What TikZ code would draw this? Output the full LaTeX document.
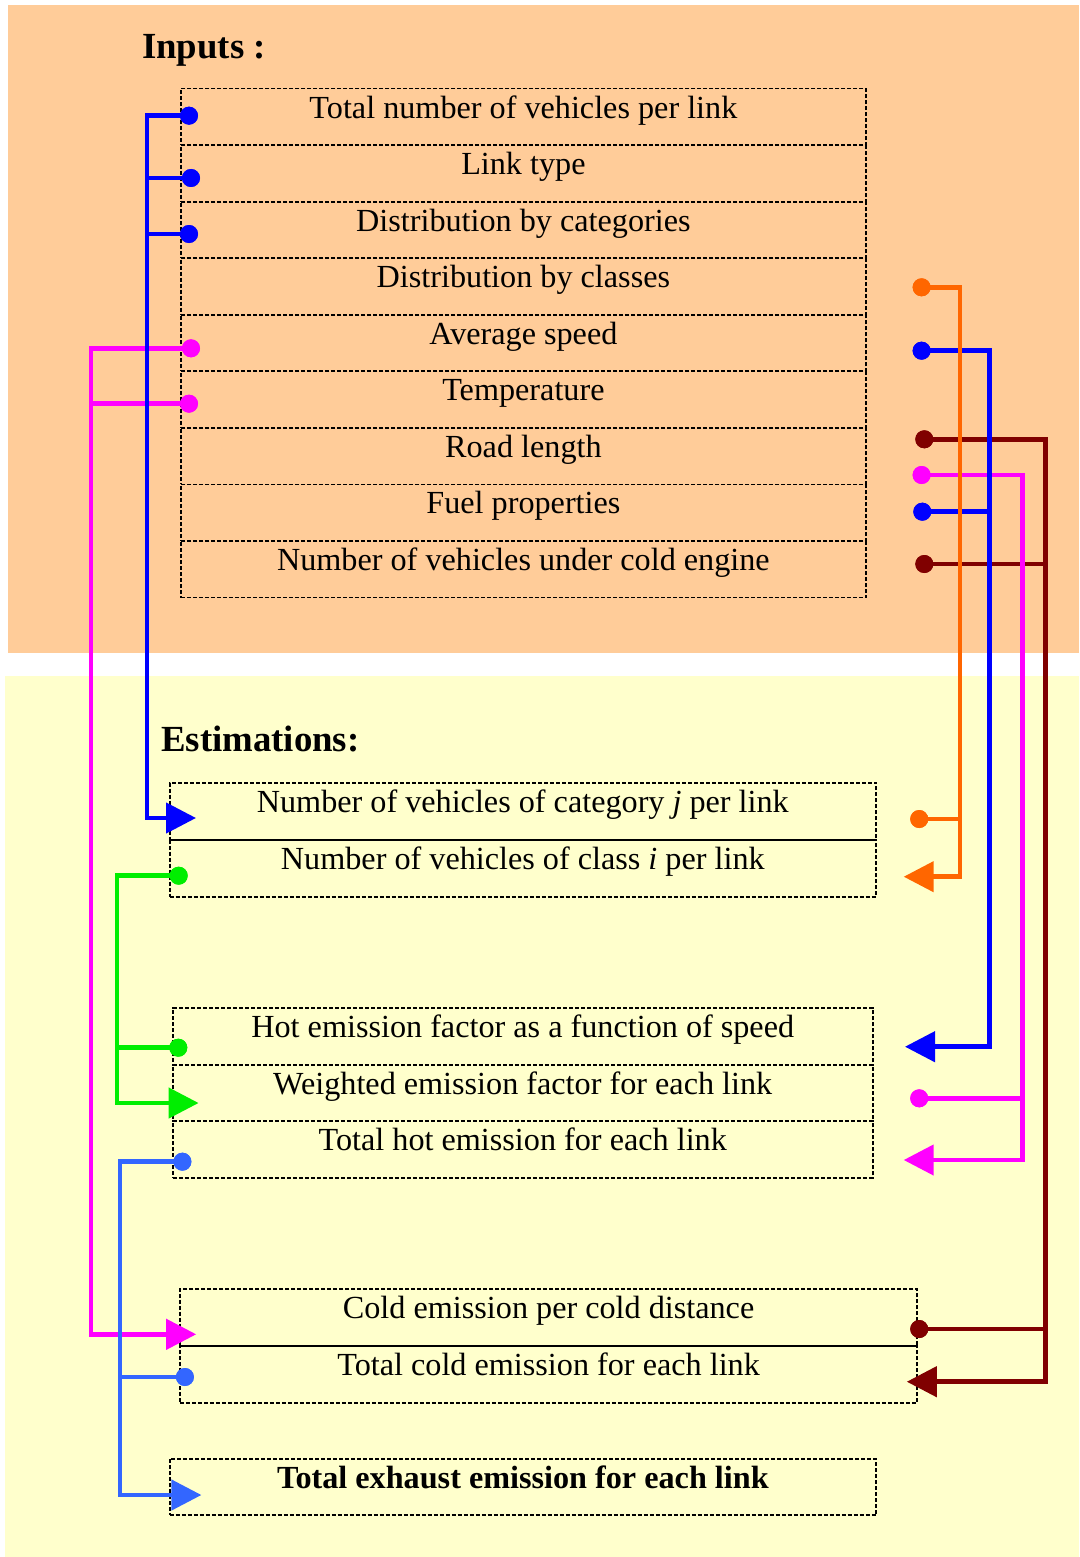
\documentclass[tikz,border=0pt]{standalone}
\usepackage{fontspec}
\setmainfont{Liberation Serif}
\usetikzlibrary{arrows.meta,calc}
\definecolor{peach}{HTML}{FFCC99}
\definecolor{pale}{HTML}{FFFFCC}
\definecolor{cOrange}{HTML}{FF6600}
\definecolor{cBlue}{HTML}{0000FF}
\definecolor{cMag}{HTML}{FF00FF}
\definecolor{cRed}{HTML}{800000}
\definecolor{cGreen}{HTML}{00EE00}
\definecolor{cLBlue}{HTML}{3366FF}
\begin{document}
\begin{tikzpicture}[x=1pt,y=-1pt,
  cellbox/.style 2 args={draw=black, dash pattern=on 4pt off 2pt, line width=1.8pt,
     inner sep=0pt, minimum width=#1pt, text height=29.5pt, text depth=#2pt,
     anchor=north west, font=\fontsize{32.2}{36}\selectfont},
  titletext/.style={font=\bfseries\fontsize{36.8}{40}\selectfont, anchor=base west, inner sep=0pt},
  conn/.style={line width=4.5pt},
  arr/.style={-{Triangle[length=30pt,width=30pt]}},
  dotnode/.style={circle, fill=#1, inner sep=0pt, minimum size=18pt}]
\useasboundingbox (0,0) rectangle (1079,1557);
\fill[white] (0,0) rectangle (1079,1557);
\fill[peach] (8,5) rectangle (1079,653);
\fill[pale] (5,676) rectangle (1079,1557);

\node[titletext] (tin) at (142,58.3) {Inputs :};
\node[titletext] (test) at (161,751.7) {Estimations:};

% input cells
\node[cellbox={685}{27.05}] (i1) at (180,87.7) {Total number of vehicles per link};
\node[cellbox={685}{27.05}] (i2) at (180,144.25) {Link type};
\node[cellbox={685}{27.05}] (i3) at (180,200.8) {Distribution by categories};
\node[cellbox={685}{27.05}] (i4) at (180,257.35) {Distribution by classes};
\node[cellbox={685}{27.05}] (i5) at (180,313.9) {Average speed};
\node[cellbox={685}{27.05}] (i6) at (180,370.45) {Temperature};
\node[cellbox={685}{27.05}] (i7) at (180,427.0) {Road length};
\node[cellbox={685}{27.05}] (i8) at (180,483.55) {Fuel properties};
\node[cellbox={685}{27.05}] (i9) at (180,540.1) {Number of vehicles under cold engine};

% estimation cells
\node[cellbox={706.5}{27.5}] (e1) at (168.7,781.7) {Number of vehicles of category \textit{j} per link};
\node[cellbox={706.5}{27.5}] (e2) at (168.7,838.7) {Number of vehicles of class \textit{i} per link};
\node[cellbox={699.7}{27}] (h1) at (172,1007.3) {Hot emission factor as a function of speed};
\node[cellbox={699.7}{27}] (h2) at (172,1063.8) {Weighted emission factor for each link};
\node[cellbox={699.7}{27}] (h3) at (172,1120.3) {Total hot emission for each link};
\node[cellbox={737.4}{27.2}] (c1) at (179,1288.3) {Cold emission per cold distance};
\node[cellbox={737.4}{27.2}] (c2) at (179,1345) {Total cold emission for each link};
\node[cellbox={706.5}{27.1}, font=\bfseries\fontsize{32.2}{36}\selectfont] (f1) at (168.7,1457.7) {Total exhaust emission for each link};

% dots
\node[dotnode=cBlue] (bd1) at (189,115.7) {};
\node[dotnode=cBlue] (bd2) at (191,178) {};
\node[dotnode=cBlue] (bd3) at (189,234) {};
\node[dotnode=cMag] (md1) at (191,348.3) {};
\node[dotnode=cMag] (md2) at (189,403.7) {};
\node[dotnode=cGreen] (gd1) at (178.7,875.7) {};
\node[dotnode=cGreen] (gd2) at (178.3,1047.7) {};
\node[dotnode=cLBlue] (lb1) at (182.4,1161.7) {};
\node[dotnode=cLBlue] (lb2) at (184.9,1377) {};
\node[dotnode=cOrange] (od1) at (921.6,287.3) {};
\node[dotnode=cOrange] (od2) at (919.2,819) {};
\node[dotnode=cBlue] (bd4) at (921.6,350.7) {};
\node[dotnode=cBlue] (bd5) at (922.3,511.7) {};
\node[dotnode=cRed] (rd1) at (924.3,439.3) {};
\node[dotnode=cRed] (rd2) at (924.3,564) {};
\node[dotnode=cRed] (rd3) at (919.2,1329) {};
\node[dotnode=cMag] (md3) at (921.6,475) {};
\node[dotnode=cMag] (md4) at (919.2,1098.3) {};

% bus corners and arrow tips
\coordinate (lmC) at (91.2,1334.3);  \coordinate (lmT) at (196.2,1334.3);
\coordinate (lbC) at (147,818);      \coordinate (lbT) at (196,818);
\coordinate (gC) at (117,1103);      \coordinate (gT) at (198.6,1103);
\coordinate (lcC) at (119.8,1495);   \coordinate (lcT) at (201.4,1495);
\coordinate (rrC) at (1045.3,1381.7);\coordinate (rrT) at (906.8,1381.7);
\coordinate (rmC) at (1022.3,1160);  \coordinate (rmT) at (903.7,1160);
\coordinate (rbC) at (989.6,1046.7); \coordinate (rbT) at (905,1046.7);
\coordinate (roC) at (960,876.7);    \coordinate (roT) at (903.7,876.7);

% left magenta
\draw[conn,cMag,arr] (md1.center) -| (lmC) -- (lmT);
\draw[conn,cMag] (md2.center) -- (md2.center -| lmC);
% left blue
\draw[conn,cBlue,arr] (bd1.center) -| (lbC) -- (lbT);
\draw[conn,cBlue] (bd2.center) -- (bd2.center -| lbC);
\draw[conn,cBlue] (bd3.center) -- (bd3.center -| lbC);
% green
\draw[conn,cGreen,arr] (gd1.center) -| (gC) -- (gT);
\draw[conn,cGreen] (gd2.center) -- (gd2.center -| gC);
% light blue
\draw[conn,cLBlue,arr] (lb1.center) -| (lcC) -- (lcT);
\draw[conn,cLBlue] (lb2.center) -- (lb2.center -| lcC);
% dark red
\draw[conn,cRed,arr] (rd1.center) -| (rrC) -- (rrT);
\draw[conn,cRed] (rd2.center) -- (rd2.center -| rrC);
\draw[conn,cRed] (rd3.center) -- (rd3.center -| rrC);
% right magenta
\draw[conn,cMag,arr] (md3.center) -| (rmC) -- (rmT);
\draw[conn,cMag] (md4.center) -- (md4.center -| rmC);
% right blue
\draw[conn,cBlue,arr] (bd4.center) -| (rbC) -- (rbT);
\draw[conn,cBlue] (bd5.center) -- (bd5.center -| rbC);
% orange
\draw[conn,cOrange,arr] (od1.center) -| (roC) -- (roT);
\draw[conn,cOrange] (od2.center) -- (od2.center -| roC);

% redraw dots on top
\foreach \d/\c in {bd1/cBlue,bd2/cBlue,bd3/cBlue,md1/cMag,md2/cMag,gd1/cGreen,gd2/cGreen,lb1/cLBlue,lb2/cLBlue,od1/cOrange,od2/cOrange,bd4/cBlue,bd5/cBlue,rd1/cRed,rd2/cRed,rd3/cRed,md3/cMag,md4/cMag}
  \fill[\c] (\d.center) circle (9pt);
\end{tikzpicture}
\end{document}
